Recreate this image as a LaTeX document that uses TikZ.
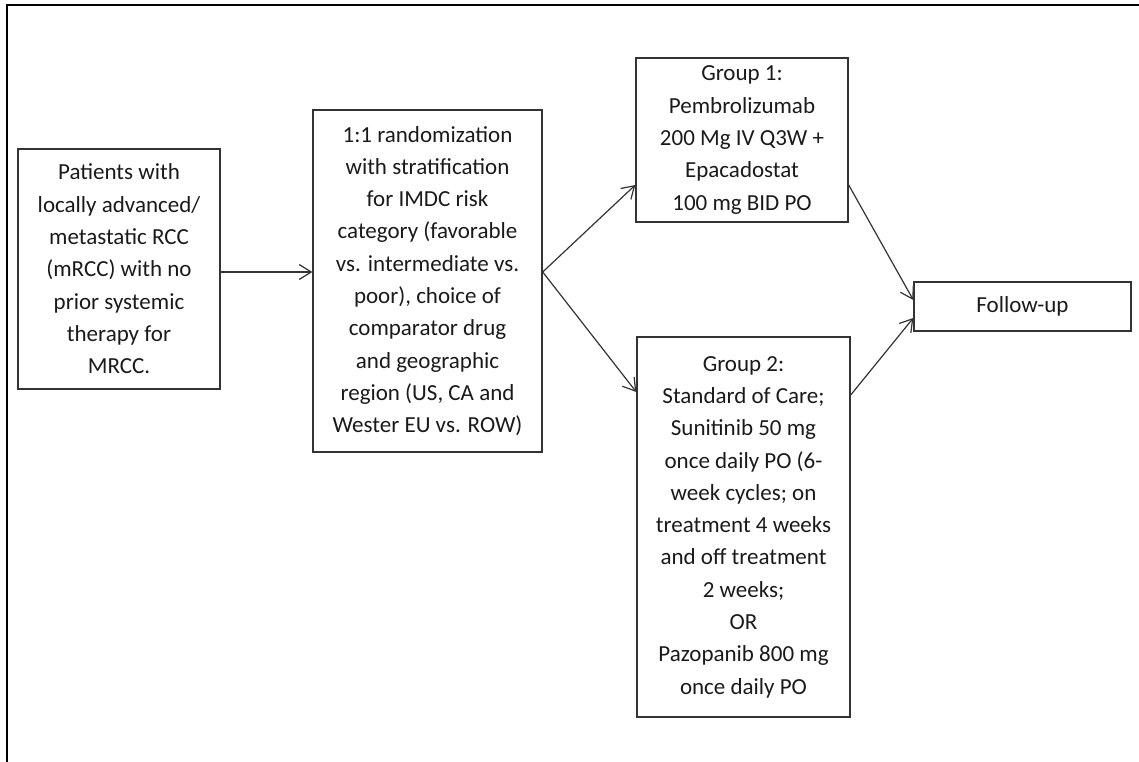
\documentclass[tikz,border=0pt]{standalone}
\usepackage{fontspec}
\setmainfont{Carlito}
\usetikzlibrary{arrows.meta}
\definecolor{FlowInk}{HTML}{1A1A1A}
\definecolor{FlowLine}{HTML}{333333}

\begin{document}
\begin{tikzpicture}[x=1pt,y=-1pt]
\tikzset{
  box/.style={draw=FlowLine,line width=1.4pt,align=center,text=FlowInk,inner sep=0pt,font=\fontsize{23}{32.3}\selectfont},
  link/.style={draw=FlowLine,line width=1.2pt,-{Straight Barb[length=12pt,width=15pt,line width=1.2pt]}}
}
\useasboundingbox (0,0) rectangle (1139,762);
\draw[line width=2.2pt] (7,762) -- (7,5) -- (1139,5);

\node[box,minimum width=202pt,minimum height=240pt] (pat) at (119,269) {Patients with\\locally advanced/\\metastatic RCC\\(mRCC) with no\\prior systemic\\therapy for\\MRCC.};
\node[box,minimum width=229pt,minimum height=342pt] (rand) at (427.5,281) {1:1 randomization\\with stratification\\for IMDC risk\\category (favorable\\vs. intermediate vs.\\poor), choice of\\comparator drug\\and geographic\\region (US, CA and\\Wester EU vs. ROW)};
\node[box,minimum width=212pt,minimum height=164pt] (g1) at (742,140) {Group 1:\\Pembrolizumab\\200 Mg IV Q3W +\\Epacadostat\\100 mg BID PO};
\node[box,minimum width=213pt,minimum height=380pt] (g2) at (743.5,527) {Group 2:\\Standard of Care;\\Sunitinib 50 mg\\once daily PO (6-\\week cycles; on\\treatment 4 weeks\\and off treatment\\2 weeks;\\OR\\Pazopanib 800 mg\\once daily PO};
\node[box,minimum width=217pt,minimum height=49pt] (fu) at (1022.5,306.5) {Follow-up};

\draw[link] ([yshift=-3pt]pat.east) -- ([yshift=-3pt]pat.east -| rand.west);
\draw[link] ([yshift=9pt]rand.east) -- ([yshift=-45pt]g1.west);
\draw[link] ([yshift=9pt]rand.east) -- ([yshift=135pt]g2.west);
\draw[link] ([yshift=-45pt]g1.east) -- ([yshift=6.5pt]fu.west);
\draw[link] ([yshift=132pt]g2.east) -- ([yshift=-11.5pt]fu.west);
\end{tikzpicture}
\end{document}
